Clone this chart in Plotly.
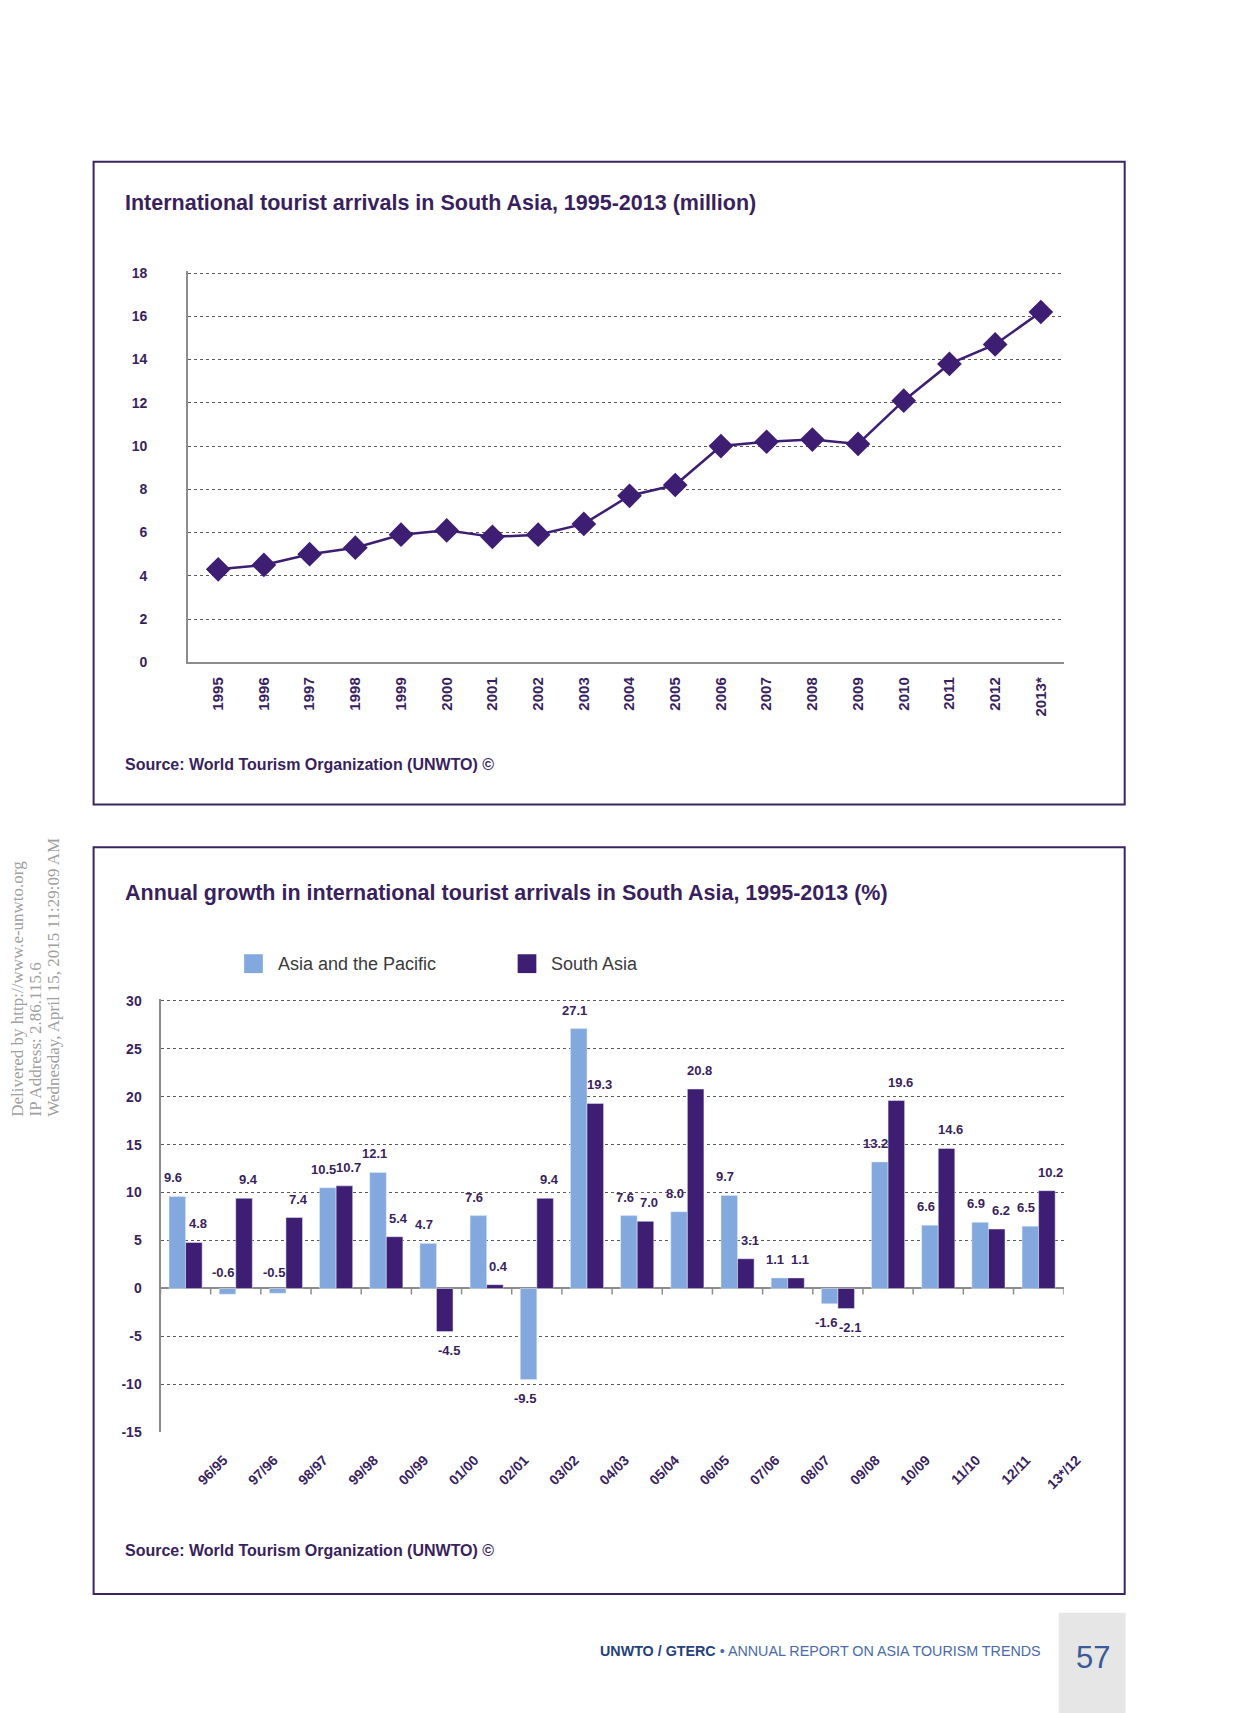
import plotly.graph_objects as go

# ---------------- data ----------------
years = ["1995", "1996", "1997", "1998", "1999", "2000", "2001", "2002", "2003", "2004",
         "2005", "2006", "2007", "2008", "2009", "2010", "2011", "2012", "2013*"]
arrivals = [4.3, 4.5, 5.0, 5.3, 5.9, 6.1, 5.8, 5.9, 6.4, 7.7,
            8.2, 10.0, 10.2, 10.3, 10.1, 12.1, 13.8, 14.7, 16.2]

periods = ["96/95", "97/96", "98/97", "99/98", "00/99", "01/00", "02/01", "03/02", "04/03",
           "05/04", "06/05", "07/06", "08/07", "09/08", "10/09", "11/10", "12/11", "13*/12"]
asia_pacific = [9.6, -0.6, -0.5, 10.5, 12.1, 4.7, 7.6, -9.5, 27.1,
                7.6, 8.0, 9.7, 1.1, -1.6, 13.2, 6.6, 6.9, 6.5]
south_asia = [4.8, 9.4, 7.4, 10.7, 5.4, -4.5, 0.4, 9.4, 19.3,
              7.0, 20.8, 3.1, 1.1, -2.1, 19.6, 14.6, 6.2, 10.2]

growth_ticks = [-15, -10, -5, 0, 5, 10, 15, 20, 25, 30]
growth_tick_text = ["-15", "-10", "-5", "0", "5", "10", "15", "20", "25", "30"]

series_names = ["Asia and the Pacific", "South Asia"]

title_top = "International tourist arrivals in South Asia, 1995-2013 (million)"
title_bottom = "Annual growth in international tourist arrivals in South Asia, 1995-2013 (%)"
source_text = "Source: World Tourism Organization (UNWTO) ©"

# ---------------- style ----------------
W, H = 1240, 1713
PURPLE = "#3d1e72"
TXT = "#3a1f5e"
LIGHT = "#82a8de"
GREY = "#8c8c8c"
GRID = "#5a5a5a"
FRAME = "#3b2462"
FONT = "Liberation Sans, Arial, sans-serif"


def px(x):
    return x / W


def py(y):
    return 1 - y / H


fig = go.Figure()

# top line chart
xi = list(range(len(years)))
fig.add_trace(go.Scatter(
    x=xi, y=arrivals, mode="lines+markers",
    line=dict(color=PURPLE, width=2.5),
    marker=dict(symbol="diamond", size=19, color=PURPLE),
    xaxis="x", yaxis="y", showlegend=False, cliponaxis=False,
))

# bottom bar chart
bi = list(range(len(periods)))
BW = 0.33
fig.add_trace(go.Bar(x=bi, y=asia_pacific, width=BW, offset=-BW, marker_color=LIGHT,
                     name=series_names[0], xaxis="x2", yaxis="y2", showlegend=False))
fig.add_trace(go.Bar(x=bi, y=south_asia, width=BW, offset=0, marker_color=PURPLE,
                     name=series_names[1], xaxis="x2", yaxis="y2", showlegend=False))

annotations = []
LBL_FONT = dict(family=FONT, size=13, color=TXT, weight="bold")
# value labels
for series, dx, sx in ((asia_pacific, -BW / 2, -4), (south_asia, BW / 2, 4)):
    for i, v in enumerate(series):
        if v >= 0:
            annotations.append(dict(x=i + dx, y=v, xref="x2", yref="y2", text=f"{v:.1f}",
                                    showarrow=False, yanchor="bottom", yshift=9, xshift=sx,
                                    font=LBL_FONT))
        elif v > -1:
            annotations.append(dict(x=i + dx, y=0, xref="x2", yref="y2", text=f"{v:.1f}",
                                    showarrow=False, yanchor="bottom", yshift=6, xshift=sx,
                                    font=LBL_FONT))
        else:
            annotations.append(dict(x=i + dx, y=v, xref="x2", yref="y2", text=f"{v:.1f}",
                                    showarrow=False, yanchor="top", yshift=-9, xshift=sx,
                                    font=LBL_FONT))

# titles & sources
annotations += [
    dict(x=px(117), y=py(191), xref="paper", yref="paper", xanchor="left", yanchor="middle",
         text=title_top, showarrow=False, font=dict(family=FONT, size=21.5, color=TXT, weight="bold")),
    dict(x=px(117), y=py(757), xref="paper", yref="paper", xanchor="left", yanchor="middle",
         text=source_text, showarrow=False, font=dict(family=FONT, size=16, color=TXT, weight="bold")),
    dict(x=px(117), y=py(886), xref="paper", yref="paper", xanchor="left", yanchor="middle",
         text=title_bottom, showarrow=False, font=dict(family=FONT, size=21.5, color=TXT, weight="bold")),
    dict(x=px(117), y=py(1549), xref="paper", yref="paper", xanchor="left", yanchor="middle",
         text=source_text, showarrow=False, font=dict(family=FONT, size=16, color=TXT, weight="bold")),
    # legend texts
    dict(x=px(272), y=py(958), xref="paper", yref="paper", xanchor="left", yanchor="middle",
         text=series_names[0], showarrow=False, font=dict(family=FONT, size=18, color="#3a3a3a")),
    dict(x=px(550), y=py(958), xref="paper", yref="paper", xanchor="left", yanchor="middle",
         text=series_names[1], showarrow=False, font=dict(family=FONT, size=18, color="#3a3a3a")),
    # footer
    dict(x=px(1052), y=py(1650), xref="paper", yref="paper", xanchor="right", yanchor="middle",
         text="<b>UNWTO / GTERC</b> <span style='color:#4a6aa8'>• ANNUAL REPORT ON ASIA TOURISM TRENDS</span>",
         showarrow=False, font=dict(family=FONT, size=14.3, color="#24417c")),
    dict(x=px(1103), y=py(1657), xref="paper", yref="paper", xanchor="center", yanchor="middle",
         text="57", showarrow=False, font=dict(family=FONT, size=31, color="#3a5a98")),
]

# watermark (rotated)
wm_lines = ["Delivered by http://www.e-unwto.org",
            "IP Address: 2.86.115.6",
            "Wednesday, April 15, 2015 11:29:09 AM"]
for k, line in enumerate(wm_lines):
    annotations.append(dict(x=px(10 + 18 * k), y=py(1114), xref="paper", yref="paper",
                            xanchor="center", yanchor="bottom", textangle=-90, text=line,
                            showarrow=False,
                            font=dict(family="Liberation Serif, DejaVu Serif, serif", size=17, color="#a0a0a0")))

shapes = [
    dict(type="rect", xref="paper", yref="paper", x0=px(87), x1=px(1135), y0=py(149), y1=py(797),
         line=dict(color=FRAME, width=2)),
    dict(type="rect", xref="paper", yref="paper", x0=px(87), x1=px(1135), y0=py(840), y1=py(1593),
         line=dict(color=FRAME, width=2)),
    # legend squares
    dict(type="rect", xref="paper", yref="paper", x0=px(240), x1=px(259), y0=py(948), y1=py(967),
         fillcolor=LIGHT, line=dict(width=0)),
    dict(type="rect", xref="paper", yref="paper", x0=px(518), x1=px(537), y0=py(948), y1=py(967),
         fillcolor=PURPLE, line=dict(width=0)),
    # page number box
    dict(type="rect", xref="paper", yref="paper", x0=px(1068), x1=px(1136), y0=py(1612), y1=py(1713),
         fillcolor="#e6e6e6", line=dict(width=0), layer="below"),
]
# small tick marks under the zero line between groups
for k in range(len(periods) + 1):
    shapes.append(dict(type="line", xref="x2", yref="y2", x0=k - 0.5, x1=k - 0.5,
                       ysizemode="pixel", yanchor=0, y0=0, y1=-6,
                       line=dict(color=GREY, width=1.5)))

fig.update_layout(
    width=W, height=H, margin=dict(l=0, r=0, t=0, b=0),
    paper_bgcolor="white", plot_bgcolor="white",
    barmode="overlay", showlegend=False,
    font=dict(family=FONT),
    annotations=annotations, shapes=shapes,
    xaxis=dict(domain=[px(183), px(1073)], range=[-0.66, 18.5], anchor="y",
               tickmode="array", tickvals=xi, ticktext=years, tickangle=-90,
               tickfont=dict(family=FONT, size=15, color=TXT, weight="bold"),
               showgrid=False, zeroline=False, showline=True, linecolor=GREY, linewidth=2,
               ticks="", ticklabelstandoff=7),
    yaxis=dict(domain=[py(653.6), py(259.5)], range=[0, 18.08], anchor="x",
               tickmode="linear", tick0=0, dtick=2,
               tickfont=dict(family=FONT, size=14, color=TXT, weight="bold"),
               showgrid=True, gridcolor=GRID, griddash="dot", gridwidth=1,
               zeroline=False, showline=True, linecolor=GREY, linewidth=2,
               ticks="", ticklabelstandoff=36),
    xaxis2=dict(domain=[px(155), px(1073)], range=[-0.5, 17.5], anchor="y2",
                tickmode="array", tickvals=bi, ticktext=periods, tickangle=-45,
                tickfont=dict(family=FONT, size=14, color=TXT, weight="bold"),
                showgrid=False, zeroline=False, showline=False,
                ticks="", ticklabelshift=38, ticklabelstandoff=16),
    yaxis2=dict(domain=[py(1430), py(993)], range=[-15, 30.2], anchor="x2",
                tickmode="array", tickvals=growth_ticks, ticktext=growth_tick_text,
                tickfont=dict(family=FONT, size=14, color=TXT, weight="bold"),
                showgrid=True, gridcolor=GRID, griddash="dot", gridwidth=1,
                zeroline=True, zerolinecolor=GREY, zerolinewidth=2,
                showline=True, linecolor=GREY, linewidth=2,
                ticks="", ticklabelstandoff=14),
)

fig.write_html("out.html")
